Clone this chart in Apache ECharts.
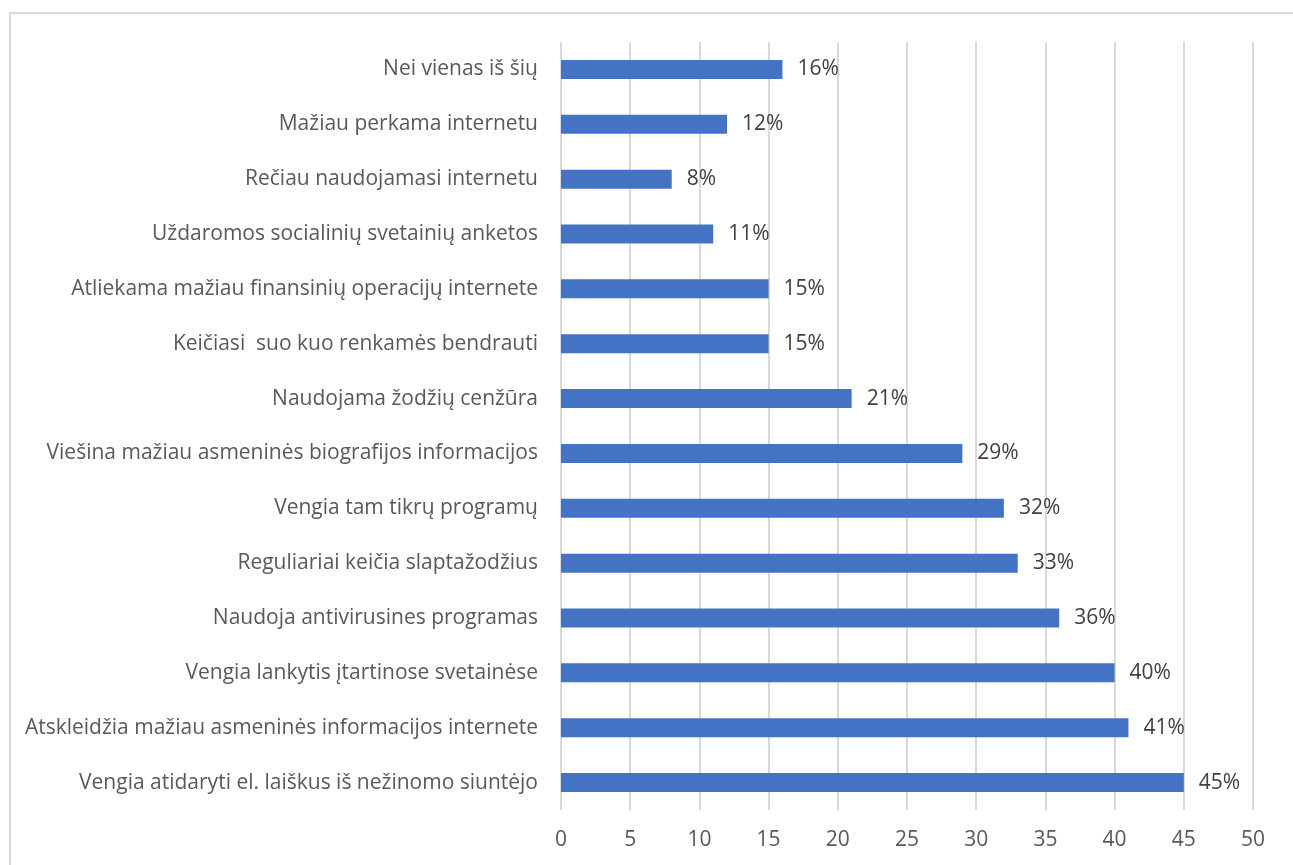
<!DOCTYPE html>
<html>
<head>
<meta charset="utf-8">
<script src="https://cdn.jsdelivr.net/npm/echarts@6/dist/echarts.min.js"></script>
<style>
  html, body { margin: 0; padding: 0; background: #fff; }
  #frame { position: absolute; left: 9px; top: 12px; width: 1290px; height: 860px; border: 2px solid #d9d9d9; box-sizing: border-box; }
  #chart { position: absolute; left: 0; top: 0; width: 1293px; height: 865px; }
</style>
</head>
<body>
<div id="frame"></div>
<div id="chart"></div>
<script>
// Categories listed top to bottom
const categories = [
  'Nei vienas iš šių',
  'Mažiau perkama internetu',
  'Rečiau naudojamasi internetu',
  'Uždaromos socialinių svetainių anketos',
  'Atliekama mažiau finansinių operacijų internete',
  'Keičiasi  suo kuo renkamės bendrauti',
  'Naudojama žodžių cenžūra',
  'Viešina mažiau asmeninės biografijos informacijos',
  'Vengia tam tikrų programų',
  'Reguliariai keičia slaptažodžius',
  'Naudoja antivirusines programas',
  'Vengia lankytis įtartinose svetainėse',
  'Atskleidžia mažiau asmeninės informacijos internete',
  'Vengia atidaryti el. laiškus iš nežinomo siuntėjo'
];
const shares = [16, 12, 8, 11, 15, 15, 21, 29, 32, 33, 36, 40, 41, 45];
const xTicks = { min: 0, max: 50, step: 5 };

const FONT = '"Open Sans"';
const chart = echarts.init(document.getElementById('chart'), null, { renderer: 'canvas' });
chart.setOption({
  animation: false,
  grid: { left: 561, right: 40, top: 42, bottom: 55, containLabel: false },
  xAxis: {
    type: 'value',
    min: xTicks.min, max: xTicks.max, interval: xTicks.step,
    axisLine: { show: false },
    axisTick: { show: false },
    axisLabel: { color: '#595959', fontSize: 21, fontFamily: FONT, margin: 20 },
    splitLine: { show: true, lineStyle: { color: '#d9d9d9', width: 2 } }
  },
  yAxis: {
    type: 'category',
    data: categories,
    inverse: true,
    axisLine: { show: false },
    axisTick: { show: false },
    axisLabel: { color: '#595959', fontSize: 21, fontFamily: FONT, margin: 23, padding: [4, 0, 0, 0] }
  },
  series: [{
    type: 'bar',
    data: shares,
    barWidth: 19,
    itemStyle: { color: '#4472c4' },
    label: {
      show: true, position: 'right', distance: 15,
      formatter: '{c}%', color: '#404040', fontSize: 21, fontFamily: FONT,
      padding: [5, 0, 0, 0]
    }
  }]
});
</script>
</body>
</html>
